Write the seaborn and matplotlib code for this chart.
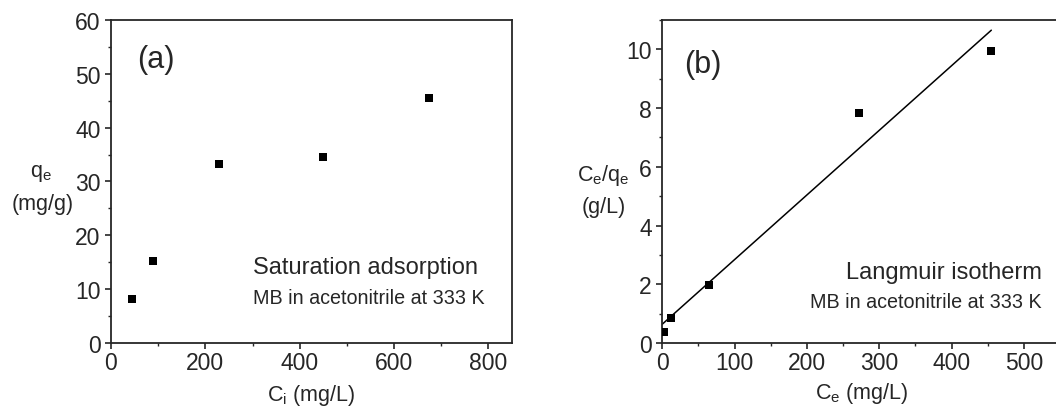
import numpy as np
import pandas as pd
import seaborn as sns
import matplotlib.pyplot as plt
from matplotlib.ticker import MultipleLocator

# (a) saturation adsorption
ci = [45, 90, 230, 450, 675]
qe = [8.1, 15.2, 33.2, 34.6, 45.6]

# (b) Langmuir isotherm
ce = [2.8, 12, 65, 272, 455]
ce_qe = [0.36, 0.84, 1.98, 7.83, 9.95]

sns.set_style("ticks")
plt.rcParams.update({
    "font.family": ["Liberation Sans", "DejaVu Sans"],
    "font.size": 15.5,
    "xtick.labelsize": 16.5,
    "ytick.labelsize": 16.5,
    "xtick.major.pad": 2,
    "mathtext.fontset": "custom",
    "mathtext.rm": "Liberation Sans",
    "axes.linewidth": 1.3,
    "xtick.major.size": 4, "ytick.major.size": 4,
    "xtick.minor.size": 2.5, "ytick.minor.size": 2.5,
    "xtick.major.width": 1.2, "ytick.major.width": 1.2,
    "xtick.minor.width": 1.0, "ytick.minor.width": 1.0,
    "xtick.direction": "out", "ytick.direction": "out",
})

fig = plt.figure(figsize=(10.56, 4.10), dpi=100)
ax1 = fig.add_axes([0.1051, 0.161, 0.3797, 0.7878])
ax2 = fig.add_axes([0.6272, 0.161, 0.3766, 0.7878])

df_a = pd.DataFrame({"x": ci, "y": qe})
sns.scatterplot(data=df_a, x="x", y="y", ax=ax1, marker="s", s=30,
                color="black", edgecolor="black", linewidth=0)
ax1.set_xlim(0, 850)
ax1.set_ylim(0, 60)
ax1.xaxis.set_major_locator(MultipleLocator(200))
ax1.xaxis.set_minor_locator(MultipleLocator(100))
ax1.yaxis.set_major_locator(MultipleLocator(10))
ax1.yaxis.set_minor_locator(MultipleLocator(5))
ax1.set_xlabel("")
ax1.set_ylabel("")
ax1.text(0.065, 0.88, "(a)", transform=ax1.transAxes, fontsize=22,
         va="center", ha="left")
ax1.text(0.355, 0.235, "Saturation adsorption", transform=ax1.transAxes,
         fontsize=17, va="center", ha="left")
ax1.text(0.355, 0.14, "MB in acetonitrile at 333 K", transform=ax1.transAxes,
         fontsize=14.2, va="center", ha="left")

df_b = pd.DataFrame({"x": ce, "y": ce_qe})
slope, intercept = np.polyfit(ce, ce_qe, 1)
fit_x = np.array([0, max(ce)])
df_fit = pd.DataFrame({"x": fit_x, "y": slope * fit_x + intercept})
sns.lineplot(data=df_fit, x="x", y="y", ax=ax2, color="black", linewidth=1.1)
sns.scatterplot(data=df_b, x="x", y="y", ax=ax2, marker="s", s=30,
                color="black", edgecolor="black", linewidth=0, zorder=3)
ax2.set_xlim(0, 550)
ax2.set_ylim(0, 11)
ax2.xaxis.set_major_locator(MultipleLocator(100))
ax2.xaxis.set_minor_locator(MultipleLocator(50))
ax2.yaxis.set_major_locator(MultipleLocator(2))
ax2.yaxis.set_minor_locator(MultipleLocator(1))
ax2.set_xlabel("")
ax2.set_ylabel("")
ax2.text(0.055, 0.865, "(b)", transform=ax2.transAxes, fontsize=22,
         va="center", ha="left")
ax2.text(0.955, 0.22, "Langmuir isotherm", transform=ax2.transAxes,
         fontsize=17, va="center", ha="right")
ax2.text(0.955, 0.13, "MB in acetonitrile at 333 K", transform=ax2.transAxes,
         fontsize=14.2, va="center", ha="right")

for ax in (ax1, ax2):
    sns.despine(ax=ax, top=False, right=False)
    ax.tick_params(which="both", top=False, right=False)

# axis labels placed as in the original figure
fig.text(311 / 1056, 1 - 396 / 410, r"C$_\mathregular{i}$ (mg/L)", ha="center", va="center")
fig.text(862 / 1056, 1 - 394 / 410, r"C$_\mathregular{e}$ (mg/L)", ha="center", va="center")
fig.text(41 / 1056, 1 - 174 / 410, r"q$_\mathregular{e}$", ha="center", va="center")
fig.text(43 / 1056, 1 - 205 / 410, "(mg/g)", ha="center", va="center")
fig.text(603 / 1056, 1 - 176 / 410, r"C$_\mathregular{e}$/q$_\mathregular{e}$", ha="center", va="center")
fig.text(604 / 1056, 1 - 208 / 410, "(g/L)", ha="center", va="center")

fig.savefig("out.png", dpi=100)
